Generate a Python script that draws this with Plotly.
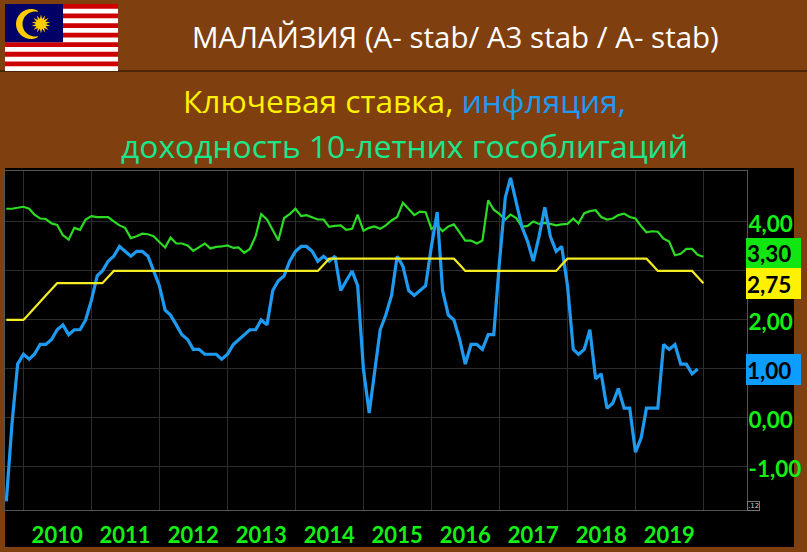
import math
import pandas as pd
import plotly.graph_objects as go

# ---- data (monthly) ----
START_MONTH = "2009-10-01"
inflation = [
    -1.7, -0.1, 1.1,
    1.3, 1.2, 1.3, 1.5, 1.5, 1.6, 1.8, 1.9, 1.7, 1.8, 1.8, 2.0,
    2.4, 2.9, 3.0, 3.2, 3.3, 3.5, 3.4, 3.3, 3.4, 3.4, 3.3, 3.0,
    2.7, 2.2, 2.1, 1.9, 1.7, 1.6, 1.4, 1.4, 1.3, 1.3, 1.3, 1.2,
    1.3, 1.5, 1.6, 1.7, 1.8, 1.8, 2.0, 1.9, 2.6, 2.8, 2.9, 3.2,
    3.4, 3.5, 3.5, 3.4, 3.2, 3.3, 3.2, 3.3, 2.6, 2.8, 3.0, 2.7,
    1.0, 0.1, 0.9, 1.8, 2.1, 2.5, 3.3, 3.1, 2.6, 2.5, 2.6, 2.7,
    3.5, 4.2, 2.6, 2.1, 2.0, 1.6, 1.1, 1.5, 1.5, 1.4, 1.7, 1.7,
    3.2, 4.5, 4.9, 4.4, 3.9, 3.6, 3.2, 3.7, 4.3, 3.7, 3.4, 3.5,
    2.7, 1.4, 1.3, 1.4, 1.8, 0.8, 0.9, 0.2, 0.3, 0.6, 0.2, 0.2,
    -0.7, -0.4, 0.2, 0.2, 0.2, 1.5, 1.4, 1.5, 1.1, 1.1, 0.9, 1.0,
]
yield_10y = [
    4.27, 4.27, 4.29,
    4.31, 4.27, 4.15, 4.07, 4.06, 3.97, 3.94, 3.73, 3.64, 3.88, 3.84, 4.05,
    4.12, 4.10, 4.10, 4.10, 4.01, 3.93, 3.88, 3.67, 3.71, 3.76, 3.75, 3.71,
    3.59, 3.48, 3.68, 3.56, 3.56, 3.52, 3.41, 3.48, 3.56, 3.46, 3.49, 3.50,
    3.52, 3.47, 3.48, 3.37, 3.45, 3.71, 4.16, 4.05, 3.84, 3.62, 4.08, 4.16,
    4.27, 4.12, 4.14, 4.09, 4.05, 4.05, 3.90, 3.92, 3.93, 3.84, 3.86, 4.15,
    3.82, 3.88, 3.91, 3.86, 3.93, 4.03, 4.10, 4.39, 4.27, 4.14, 4.21, 4.20,
    3.86, 3.93, 3.81, 3.91, 3.95, 3.78, 3.62, 3.62, 3.56, 3.62, 4.44, 4.25,
    4.16, 4.05, 4.15, 4.08, 3.90, 3.92, 4.01, 3.96, 3.98, 3.96, 3.93, 3.95,
    3.96, 4.07, 3.97, 4.18, 4.22, 4.24, 4.10, 4.05, 4.07, 4.14, 4.17, 4.10,
    4.07, 3.91, 3.79, 3.81, 3.80, 3.66, 3.60, 3.32, 3.35, 3.45, 3.45, 3.33,
    3.29,
]
policy_rate = (
    [2.0, 2.0, 2.0]
    + [2.0, 2.125, 2.25, 2.375, 2.5, 2.625] + [2.75] * 6
    + [2.75] * 3 + [2.875, 3.0] + [3.0] * 7
    + [3.0] * 12 + [3.0] * 12
    + [3.0] * 5 + [3.125] + [3.25] * 6
    + [3.25] * 12
    + [3.25] * 5 + [3.125] + [3.0] * 6
    + [3.0] * 11 + [3.125]
    + [3.25] * 12
    + [3.25] * 3 + [3.125] + [3.0] * 7 + [2.875]
    + [2.75]
)
year_labels = ["2010", "2011", "2012", "2013", "2014", "2015", "2016", "2017", "2018", "2019"]
y_ticks = [-1, 0, 1, 2, 3, 4]
y_tick_labels = ["-1,00", "0,00", "", "2,00", "", "4,00"]

BROWN = "#7F3F0F"
GREEN_TXT = "#14F014"
BLUE = "#1E9BF0"
YELLOW = "#F5EB23"
GREEN = "#2BDC22"

months_i = pd.date_range(START_MONTH, periods=len(inflation), freq="MS")
months_y = pd.date_range(START_MONTH, periods=len(yield_10y), freq="MS")
months_p = pd.date_range(START_MONTH, periods=len(policy_rate), freq="MS")

X0, X1, Y0, Y1 = 5, 747, 171, 510
def px(x): return (x - X0) / (X1 - X0)
def py(y): return (Y1 - y) / (Y1 - Y0)

def rect(x0, y0, x1, y1, color, layer="above"):
    return dict(type="rect", xref="paper", yref="paper", x0=px(x0), x1=px(x1),
                y0=py(y1), y1=py(y0), fillcolor=color, line_width=0, layer=layer)

def poly(points, color):
    path = "M " + " L ".join(f"{px(a):.5f},{py(b):.5f}" for a, b in points) + " Z"
    return dict(type="path", xref="paper", yref="paper", path=path,
                fillcolor=color, line_width=0, layer="above")

shapes = [
    rect(5, 168, 794, 547, "#000000", "below"),
    rect(0, 70.5, 807, 71.5, "#1a0d00"),
]
# flag
FX0, FX1, FY0, FY1 = 5, 118, 4, 71
sh = (FY1 - FY0) / 14
shapes.append(rect(FX0, FY0, FX1, FY1, "#FFFFFF"))
for i in range(0, 14, 2):
    shapes.append(rect(FX0, FY0 + i * sh, FX1, FY0 + (i + 1) * sh, "#CC0001"))
shapes.append(rect(FX0, FY0, 63, FY0 + 8 * sh, "#010066"))
# crescent
cx, cy, R = 31, 24, 15
outer = [(cx + R * math.cos(math.radians(a)), cy - R * math.sin(math.radians(a)))
         for a in range(65, 296, 10)]
ix, iy, r = 35, 24, 12.5
inner = [(ix + r * math.cos(math.radians(a)), iy - r * math.sin(math.radians(a)))
         for a in reversed(range(75, 286, 10))]
shapes.append(poly(outer + inner, "#FFCC00"))
# sun
sun = []
for k in range(28):
    t = math.pi * k / 14
    rad = 9.5 if k % 2 == 0 else 5
    sun.append((41 + rad * math.sin(t), 24 - rad * math.cos(t)))
shapes.append(poly(sun, "#FFCC00"))
# value tags
shapes += [
    rect(746, 238, 801, 268, "#12E612"),
    rect(746, 268, 801, 299, "#FFF200"),
    rect(746, 354, 801, 385, "#0D9DFF"),
]

def note(x, y, text, size, color, family="Open Sans", anchor="center", bold=False):
    t = f"<b>{text}</b>" if bold else text
    return dict(xref="paper", yref="paper", x=px(x), y=py(y), text=t, showarrow=False,
                xanchor=anchor, yanchor="middle",
                font=dict(family=family, size=size, color=color))

annotations = [
    note(455, 36, "МАЛАЙЗИЯ (A- stab/ A3 stab / A- stab)", 29.5, "#FFFFFF"),
    note(404, 100, f'<span style="color:#FFF200">Ключевая ставка,</span> '
                   f'<span style="color:#1E9BF0">инфляция,</span>', 31.7, "#FFF200"),
    note(404, 145, "доходность 10-летних гособлигаций", 31.8, "#1BE68C"),
    note(745, 253, "3,30", 22.5, "#000000", "Lato", "left", True),
    note(745, 284, "2,75", 22.5, "#000000", "Lato", "left", True),
    note(745, 370, "1,00", 22.5, "#000000", "Lato", "left", True),
    dict(xref="paper", yref="paper", x=px(753), y=py(505.5), text=".12", showarrow=False,
         font=dict(family="DejaVu Sans", size=7, color="#CCCCCC"),
         bordercolor="#777777", borderwidth=1, borderpad=0, xanchor="center", yanchor="middle"),
]

fig = go.Figure()
fig.add_trace(go.Scatter(x=months_y, y=yield_10y, mode="lines", line=dict(color=GREEN, width=2.2)))
fig.add_trace(go.Scatter(x=months_i, y=inflation, mode="lines", line=dict(color=BLUE, width=3.2)))
fig.add_trace(go.Scatter(x=months_p, y=policy_rate, mode="lines", line=dict(color=YELLOW, width=2.2)))

fig.update_layout(
    width=807, height=552, autosize=False,
    margin=dict(l=X0, r=807 - X1, t=Y0, b=552 - Y1, pad=0),
    paper_bgcolor=BROWN, plot_bgcolor="#000000",
    showlegend=False, shapes=shapes, annotations=annotations,
    xaxis=dict(
        type="date", range=["2009-09-24", "2020-08-22"],
        tickvals=[f"{y}-07-01" for y in year_labels],
        ticktext=[f"<b>{t}</b>" for t in year_labels],
        tickfont=dict(family="Lato", size=22, color=GREEN_TXT),
        ticks="", showgrid=False, zeroline=False,
        showline=True, linecolor="#555555", linewidth=1, mirror=True,
        minor=dict(dtick="M12", tick0="2010-01-01", showgrid=True, gridcolor="#2e2e2e", gridwidth=1, ticks=""),
        ticklabelstandoff=6,
    ),
    yaxis=dict(
        side="right", range=[-1.878, 5.04],
        tickvals=y_ticks, ticktext=[f"<b>{t}</b>" for t in y_tick_labels],
        tickfont=dict(family="Lato", size=22.5, color=GREEN_TXT),
        ticks="", showgrid=True, gridcolor="#2c2c2c", gridwidth=1, zeroline=False,
        showline=True, linecolor="#555555", linewidth=1, mirror=True,
        ticklabelstandoff=-4, ticklabelshift=2,
    ),
)
fig.write_html("out.html", post_script="document.body.style.margin='0';",
               config={"displayModeBar": False})
